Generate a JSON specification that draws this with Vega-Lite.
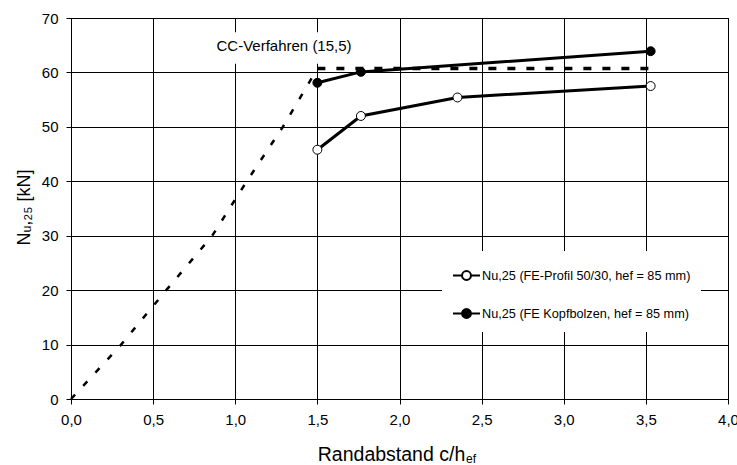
{
  "$schema": "https://vega.github.io/schema/vega-lite/v6.json",
  "width": 657,
  "height": 381,
  "autosize": {"type": "none"},
  "padding": {"left": 71, "top": 18, "right": 9, "bottom": 66},
  "background": "white",
  "config": {
    "font": "Liberation Sans",
    "view": {"stroke": "black", "strokeWidth": 1}
  },
  "datasets": {
    "ccRise": [
      {"x": 0, "y": 0},
      {"x": 0.3, "y": 9.8},
      {"x": 0.58, "y": 20},
      {"x": 0.86, "y": 30},
      {"x": 1.07, "y": 40},
      {"x": 1.29, "y": 50},
      {"x": 1.5, "y": 60.7}
    ],
    "ccFlat": [
      {"x": 1.5, "y": 60.7},
      {"x": 3.53, "y": 60.7}
    ],
    "ccLabel": [
      {"x": 0.88, "x2": 1.72, "y": 61.6, "y2": 67.4, "xt": 1.297, "yt": 64.9, "label": "CC-Verfahren (15,5)"}
    ],
    "series": [
      {"series": "Nu,25 (FE-Profil 50/30, hef = 85 mm)", "x": 1.5, "y": 45.8},
      {"series": "Nu,25 (FE-Profil 50/30, hef = 85 mm)", "x": 1.765, "y": 52.0},
      {"series": "Nu,25 (FE-Profil 50/30, hef = 85 mm)", "x": 2.353, "y": 55.4},
      {"series": "Nu,25 (FE-Profil 50/30, hef = 85 mm)", "x": 3.529, "y": 57.5},
      {"series": "Nu,25 (FE Kopfbolzen, hef = 85 mm)", "x": 1.5, "y": 58.1},
      {"series": "Nu,25 (FE Kopfbolzen, hef = 85 mm)", "x": 1.765, "y": 60.1},
      {"series": "Nu,25 (FE Kopfbolzen, hef = 85 mm)", "x": 3.529, "y": 63.9}
    ],
    "sub": [
      {"x": 2.405, "y": -11.85, "label": "ef"}
    ]
  },
  "encoding": {
    "x": {
      "field": "x",
      "type": "quantitative",
      "scale": {"domain": [0, 4], "nice": false, "zero": false},
      "axis": {
        "values": [0, 0.5, 1, 1.5, 2, 2.5, 3, 3.5, 4],
        "labelExpr": "replace(format(datum.value, '.1f'), '.', ',')",
        "grid": true,
        "gridColor": "black",
        "gridOpacity": 1,
        "gridWidth": 1,
        "domainColor": "black",
        "tickColor": "black",
        "tickSize": 5,
        "labelFontSize": 15,
        "labelColor": "black",
        "labelPadding": 8,
        "labelFlush": false,
        "labelOverlap": false,
        "labelBound": false,
        "title": "Randabstand c/h",
        "titleFontSize": 19.5,
        "titleFontWeight": "normal",
        "titleColor": "black",
        "titleX": 320,
        "titleY": 61,
        "titleAlign": "center",
        "titleBaseline": "alphabetic"
      }
    },
    "y": {
      "field": "y",
      "type": "quantitative",
      "scale": {"domain": [0, 70], "nice": false},
      "axis": {
        "values": [0, 10, 20, 30, 40, 50, 60, 70],
        "grid": true,
        "gridColor": "black",
        "gridOpacity": 1,
        "gridWidth": 1,
        "domainColor": "black",
        "tickColor": "black",
        "tickSize": 5,
        "labelFontSize": 15,
        "labelColor": "black",
        "labelPadding": 8,
        "labelFlush": false,
        "labelOverlap": false,
        "title": "Nᵤ,₂₅ [kN]",
        "titleFontSize": 18,
        "titleFontWeight": "normal",
        "titleColor": "black",
        "titleX": -47,
        "titleY": 189,
        "titleAngle": -90,
        "titleAlign": "center",
        "titleBaseline": "middle"
      }
    }
  },
  "layer": [
    {
      "data": {"name": "ccRise"},
      "mark": {"type": "line", "color": "black", "strokeWidth": 2.5, "strokeDash": [6, 12]}
    },
    {
      "data": {"name": "ccFlat"},
      "mark": {"type": "line", "color": "black", "strokeWidth": 3.5, "strokeDash": [8, 11]}
    },
    {
      "data": {"name": "ccLabel"},
      "mark": {"type": "rect", "fill": "white", "stroke": null},
      "encoding": {
        "x2": {"field": "x2"},
        "y2": {"field": "y2"}
      }
    },
    {
      "data": {"name": "ccLabel"},
      "mark": {"type": "text", "fontSize": 15, "color": "black", "align": "center", "baseline": "middle", "font": "Liberation Sans"},
      "encoding": {
        "x": {"field": "xt", "type": "quantitative"},
        "y": {"field": "yt", "type": "quantitative"},
        "text": {"field": "label"}
      }
    },
    {
      "data": {"name": "series"},
      "mark": {"type": "line", "color": "black", "strokeWidth": 3},
      "encoding": {
        "detail": {"field": "series"}
      }
    },
    {
      "data": {"name": "series"},
      "mark": {"type": "point", "filled": true, "stroke": "black", "strokeWidth": 1, "size": 80, "opacity": 1},
      "encoding": {
        "fill": {
          "field": "series",
          "type": "nominal",
          "scale": {
            "domain": ["Nu,25 (FE-Profil 50/30, hef = 85 mm)", "Nu,25 (FE Kopfbolzen, hef = 85 mm)"],
            "range": ["white", "black"]
          },
          "legend": {
            "orient": "none",
            "legendX": 371,
            "legendY": 233,
            "title": null,
            "fillColor": "white",
            "strokeColor": null,
            "padding": 10,
            "rowPadding": 15,
            "symbolType": "M-1,0L-0.33,0M0.33,0L1,0M0.33,0A0.33,0.33,0,1,1,-0.33,0A0.33,0.33,0,1,1,0.33,0Z",
            "symbolSize": 729,
            "symbolStrokeColor": "black",
            "symbolStrokeWidth": 2,
            "symbolOpacity": 1,
            "labelFont": "Liberation Sans",
            "labelFontSize": 12.7,
            "labelColor": "black",
            "labelOffset": 1,
            "labelLimit": 0
          }
        }
      }
    },
    {
      "data": {"name": "sub"},
      "mark": {"type": "text", "fontSize": 12, "color": "black", "align": "left", "baseline": "alphabetic", "font": "Liberation Sans"},
      "encoding": {
        "text": {"field": "label"}
      }
    }
  ]
}
